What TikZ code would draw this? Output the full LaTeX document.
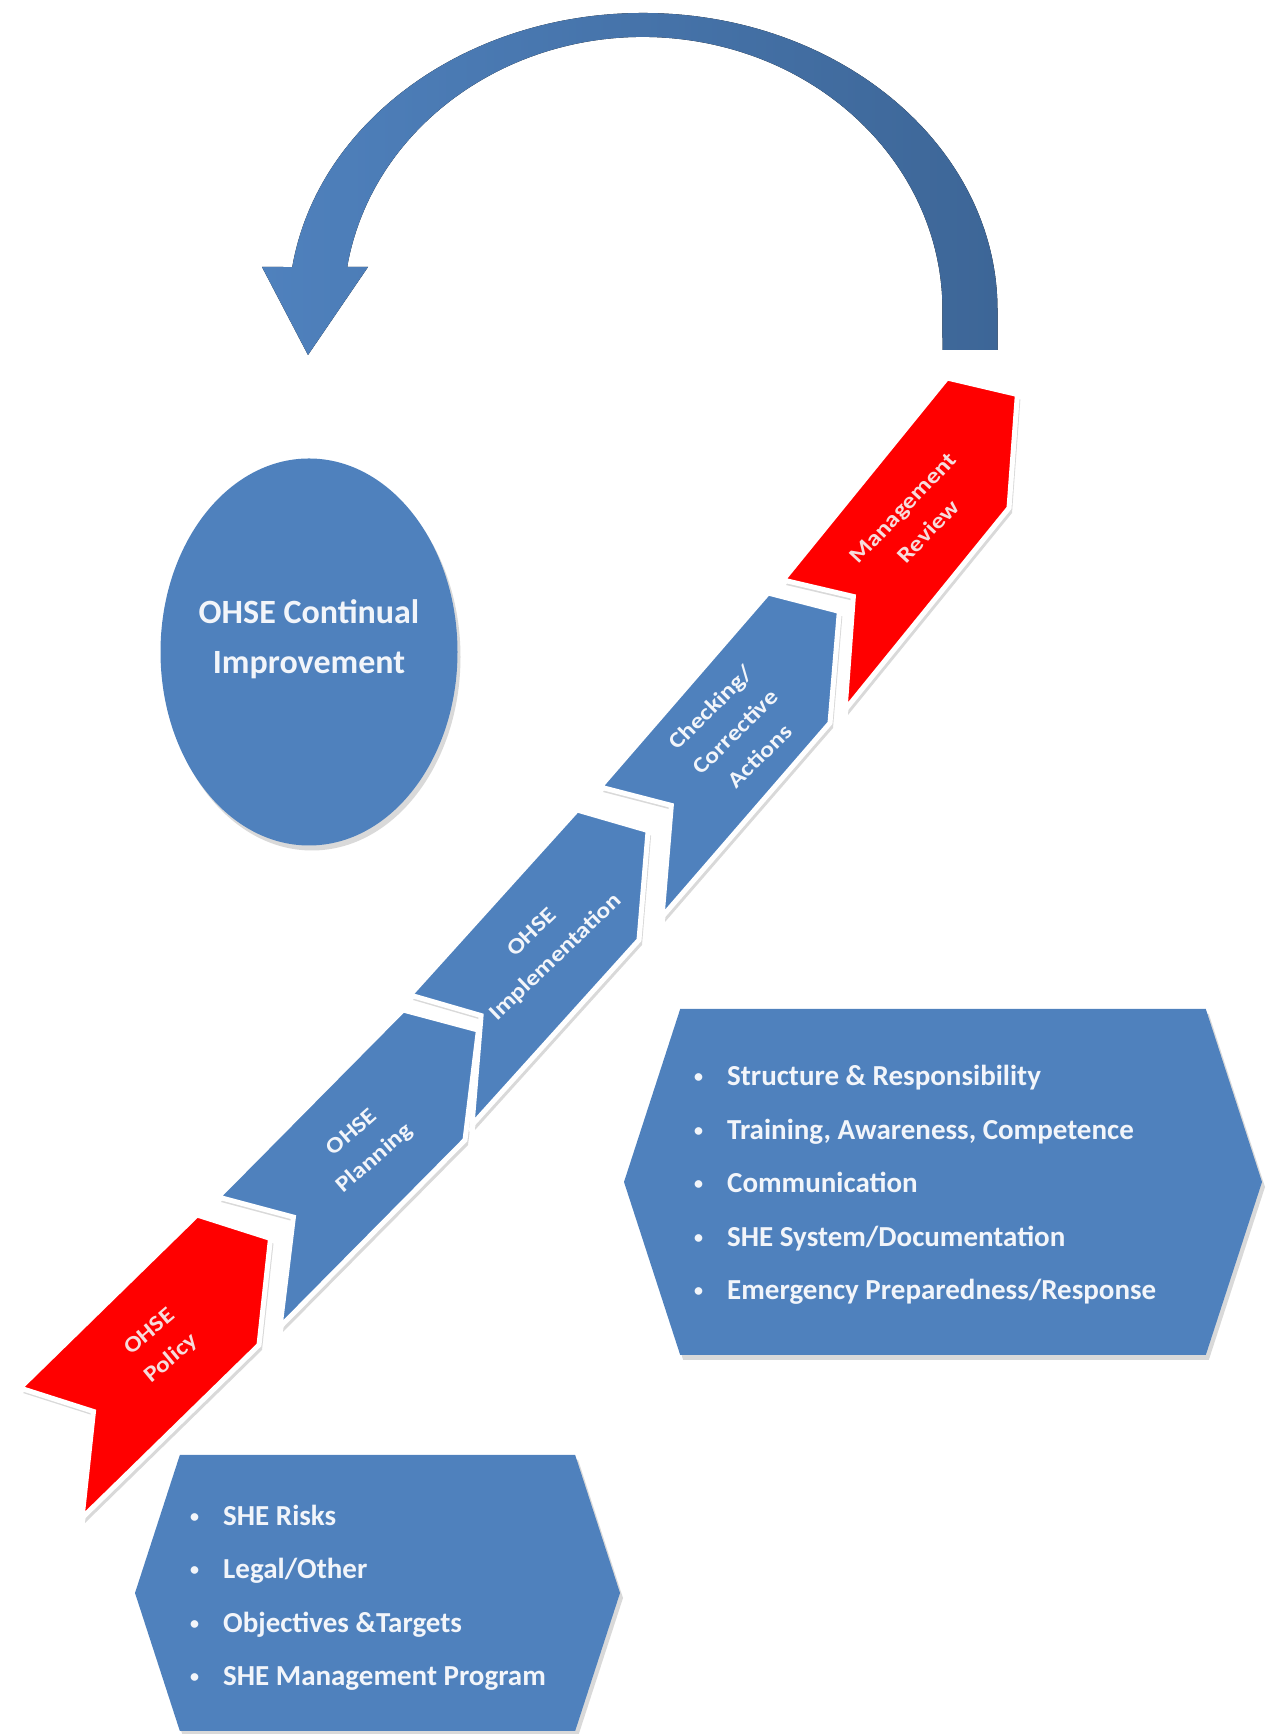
\documentclass[tikz,border=0pt]{standalone}
\usepackage{fontspec}
\setmainfont{Carlito}
\usetikzlibrary{shapes.geometric, shapes.symbols, shadows}

\definecolor{ohseblue}{HTML}{4F81BD}
\definecolor{ohsedark}{HTML}{3D6697}
\definecolor{ohsered}{HTML}{FF0000}
\definecolor{ohsetext}{HTML}{F2F5FA}
\definecolor{ohsepink}{HTML}{F6DCDC}

\newcommand{\itm}{\makebox[33pt][l]{\raisebox{3pt}{\fontsize{18}{18}\selectfont\textbullet}}}

\tikzset{
  softshadow/.style={drop shadow={shadow xshift=3pt, shadow yshift=-5pt, opacity=0.25, fill=black!60}},
  chevbox/.style={draw=white, line width=5pt, line join=miter, softshadow},
  chevtext/.style={font=\fontsize{24}{37}\selectfont\bfseries, align=center, xslant=0.15},
  hexbox/.style={shape=signal, signal to=west and east, signal pointer angle=144, fill=ohseblue, softshadow},
  listtext/.style={anchor=west, inner sep=0pt, text=ohsetext, font=\fontsize{29}{53.5}\selectfont\bfseries, align=left},
}

\begin{document}
\begin{tikzpicture}[x=1pt, y=1pt]
\useasboundingbox (0,0) rectangle (1272,1734);

% return arrow
\fill[left color=ohseblue, right color=ohsedark]
  (997.5,1384) -- (997.5,1424) arc[start angle=0, end angle=171.68, x radius=354.5, y radius=297]
  -- (262,1467) -- (308,1379) -- (368,1467) -- (347.2,1467)
  arc[start angle=170.94, end angle=0, x radius=299.5, y radius=273] -- (942.5,1384) -- cycle;

% continual improvement
\node[ellipse, fill=ohseblue, softshadow, minimum width=297pt, minimum height=387pt] (improve) at (309,1082) {};
\node[text=ohsetext, font=\fontsize{34}{50}\selectfont\bfseries, align=center] (improvetxt) at (309,1095) {OHSE Continual\\Improvement};

% process chevrons (base corner, length vector, colours, name, label)
\foreach \fx/\fy/\ux/\uy/\col/\tcol/\nm/\txt in {
  20/346/177/173/ohsered/ohsepink/policy/{OHSE\\Policy},
  218/537/185/187/ohseblue/ohsetext/planning/{OHSE\\Planning},
  410/739/167/185/ohseblue/ohsetext/implement/{OHSE\\Implementation},
  600/947/168/194/ohseblue/ohsetext/checking/{Checking/\\Corrective\\Actions},
  783/1154/164/202/ohsered/ohsepink/review/{Management\\Review}}
{
  \pgfmathsetmacro{\ang}{atan2(\uy,\ux)}
  \begin{scope}[shift={(\fx,\fy)}, x={(\ux pt,\uy pt)}, y={(62pt,-130pt)}]
    \filldraw[chevbox, fill=\col] (0,0) -- (1,0) -- (1.24,0.5) -- (1,1) -- (0,1) -- (0.24,0.5) -- cycle;
    \node[chevtext, rotate=\ang, text=\tcol] (\nm) at (0.62,0.5) {\txt};
  \end{scope}
}

% element lists
\node[hexbox, minimum width=638pt, minimum height=346pt] (implbox) at (943,552) {};
\node[listtext] (implist) at (694,549)
  {\itm Structure \& Responsibility\\ \itm Training, Awareness, Competence\\ \itm Communication\\
   \itm SHE System/Documentation\\ \itm Emergency Preparedness/Response};
\node[hexbox, minimum width=485pt, minimum height=276pt] (planbox) at (377.5,141) {};
\node[listtext] (planlist) at (190,136)
  {\itm SHE Risks\\ \itm Legal/Other\\ \itm Objectives \&Targets\\ \itm SHE Management Program};
\end{tikzpicture}
\end{document}
